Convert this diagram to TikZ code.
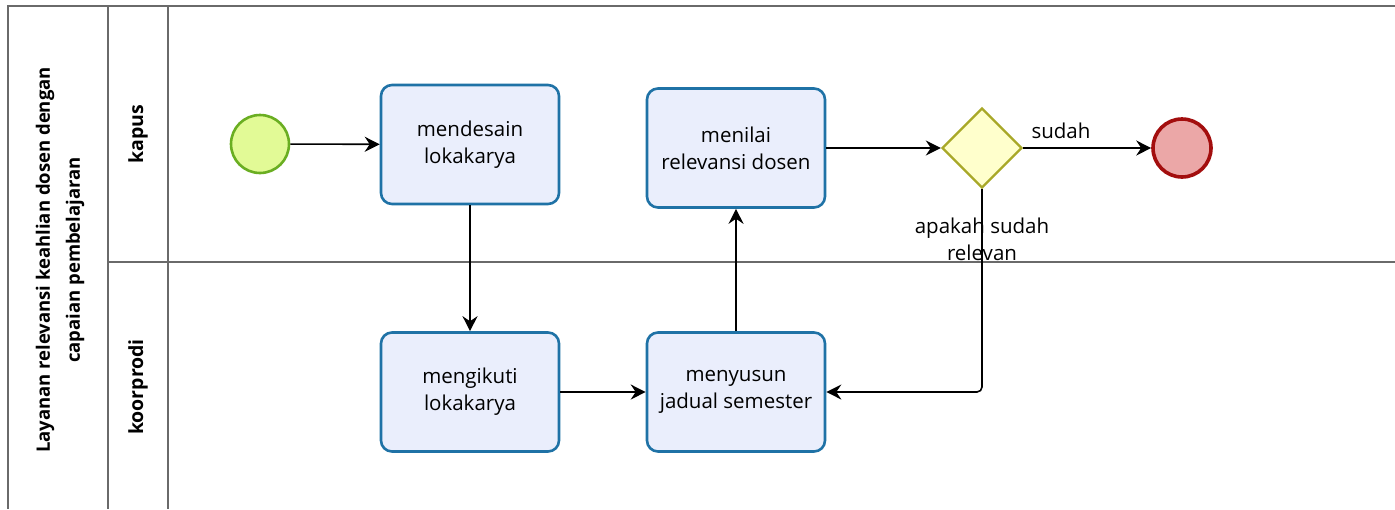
\documentclass[tikz,border=0pt]{standalone}
\usepackage{fontspec}
\setmainfont{Open Sans}
\usetikzlibrary{shapes.geometric,arrows.meta}
\definecolor{taskfill}{HTML}{EAEEFC}
\definecolor{taskline}{HTML}{1F72A6}
\definecolor{startfill}{HTML}{E2FA96}
\definecolor{startline}{HTML}{6AAE22}
\definecolor{gwfill}{HTML}{FFFFCC}
\definecolor{gwline}{HTML}{A8A828}
\definecolor{endfill}{HTML}{EBA7A7}
\definecolor{endline}{HTML}{A30E0E}
\definecolor{frameline}{HTML}{6A6A6A}
\begin{document}
\begin{tikzpicture}[x=1pt,y=-1pt,
  taskbox/.style={rectangle, rounded corners=11pt, draw=taskline, fill=taskfill, line width=2.6pt,
    minimum width=178pt, minimum height=119pt, align=center, inner sep=2pt,
    font=\fontsize{20.5}{27}\selectfont},
  startev/.style={circle, draw=startline, fill=startfill, line width=2.6pt, minimum size=58pt, inner sep=0pt},
  endev/.style={circle, draw=endline, fill=endfill, line width=3.6pt, minimum size=58pt, inner sep=0pt},
  gateway/.style={diamond, aspect=1, draw=gwline, fill=gwfill, line width=2.4pt, minimum width=80pt, minimum height=80pt, inner sep=0pt},
  flow/.style={line width=1.6pt, -{Stealth[length=15pt,width=15pt,inset=5pt]}},
  frame/.style={draw=frameline, line width=1.6pt},
  lanelabel/.style={rotate=90, font=\bfseries\fontsize{19.5}{30}\selectfont},
  flowlabel/.style={font=\fontsize{20.5}{27}\selectfont, align=center, inner sep=0pt}
]
\useasboundingbox (0,0) rectangle (1395,509);
\fill[white] (0,0) rectangle (1395,509);
% pool and lanes
\draw[frame] (1395,6) -- (8,6) -- (8,509);
\draw[frame] (108,6) -- (108,509);
\draw[frame] (168,6) -- (168,509);
\draw[frame] (108,262) -- (1395,262);
\node[lanelabel, align=center, font=\bfseries\fontsize{18.5}{30}\selectfont] (pool) at (60,260) {Layanan relevansi keahlian dosen dengan\\capaian pembelajaran};
\node[lanelabel] (lane1) at (138,134) {kapus};
\node[lanelabel] (lane2) at (138,387) {koorprodi};
% nodes
\node[startev] (start) at (260,144) {};
\node[taskbox] (desain) at (470,144.5) {mendesain\\lokakarya};
\node[taskbox] (nilai) at (736,148) {menilai\\relevansi dosen};
\node[gateway] (gw) at (982,148) {};
\node[endev] (end) at (1182,148) {};
\node[taskbox] (ikuti) at (470,392) {mengikuti\\lokakarya};
\node[taskbox] (susun) at (736,392) {menyusun\\jadual semester};
% flows
\draw[flow] (start) -- (desain);
\draw[flow] (desain) -- (ikuti);
\draw[flow] (ikuti) -- (susun);
\draw[flow] (susun) -- (nilai);
\draw[flow] (nilai) -- (gw);
\draw[flow] (gw) -- (end);
\draw[flow, rounded corners=5pt] (gw.south) |- (susun.east);
% labels
\node[flowlabel] (lsudah) at (1061,131) {sudah};
\node[flowlabel] (lq) at (982,239) {apakah sudah\\relevan};
\end{tikzpicture}
\end{document}
